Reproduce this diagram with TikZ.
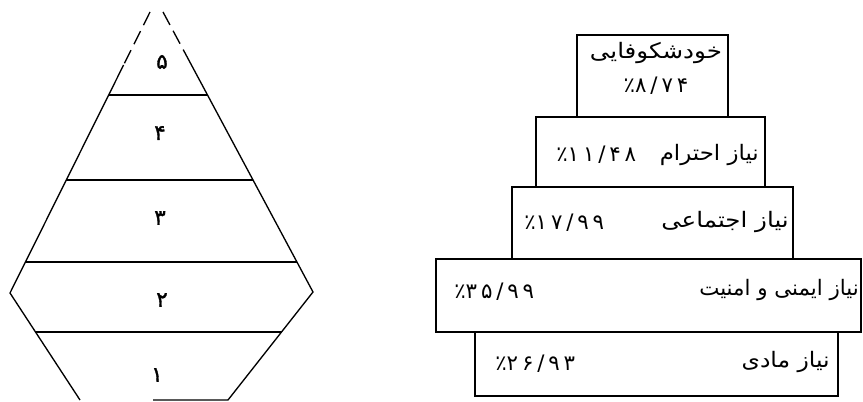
\documentclass[tikz,border=0pt]{standalone}
\usepackage{fontspec}
\usepackage{graphicx}
\newfontfamily\arabicfont[Script=Arabic]{DejaVu Sans}
\newfontfamily\numfont[Script=Arabic,FakeBold=1.5]{DejaVu Sans}
\newfontfamily\digitfont[Script=Arabic,LetterSpace=18]{DejaVu Sans}
\TeXXeTstate=1
\newcommand\pctxt[1]{\beginL\hbox{\digitfont ٪}\hbox{\digitfont #1}\endL}
\begin{document}
\begin{tikzpicture}[x=0.75pt,y=-0.75pt,
  outline/.style={line width=1pt,black},
  dashpart/.style={outline,dash pattern=on 11pt off 5pt},
  box/.style={draw,line width=0.9pt,inner sep=0pt,outer sep=0pt},
  lbl/.style={inner sep=0pt,font=\arabicfont\fontsize{16}{19}\selectfont},
  num/.style={inner sep=0pt,font=\numfont\fontsize{16}{18}\selectfont}]
\useasboundingbox (0,0) rectangle (863,402);
% ---------- left shape ----------
\coordinate (tl) at (150,12);
\coordinate (dl) at (123.6,65);
\coordinate (tr) at (163,12);
\coordinate (dr) at (183.4,50);
\coordinate (wl) at (10,293);
\coordinate (wr) at (313,292);
\coordinate (bl) at (80,400);
\coordinate (br) at (228,400);
\coordinate (bm) at (153,400);
\draw[dashpart] (tl) -- (dl);
\draw[dashpart] (tr) -- (dr);
\draw[outline] (dl) -- (wl) -- (bl);
\draw[outline] (dr) -- (wr) -- (br) -- (bm);
\coordinate (a1) at (108.6,95);  \coordinate (a2) at (207.5,95);
\coordinate (b1) at (66,180);    \coordinate (b2) at (253,180);
\coordinate (c1) at (25,262);    \coordinate (c2) at (297,262);
\coordinate (d1) at (35.5,332);  \coordinate (d2) at (281.5,332);
\draw[outline] (a1) -- (a2);
\draw[outline] (b1) -- (b2);
\draw[outline] (c1) -- (c2);
\draw[outline] (d1) -- (d2);
\node[num] (n5) at (162,62) {۵};
\node[num] (n4) at (160,133) {۴};
\node[num] (n3) at (160,218) {۳};
\node[num] (n2) at (162,300) {۲};
\node[num] (n1) at (157,375) {۱};
% ---------- right boxes ----------
\node[box,minimum width=113.25pt,minimum height=61.5pt] (bx1) at (652.5,76) {};
\node[box,minimum width=171.75pt,minimum height=52.5pt] (bx2) at (650.5,152) {};
\node[box,minimum width=210.75pt,minimum height=54pt] (bx3) at (652.5,223) {};
\node[box,minimum width=318.75pt,minimum height=54.75pt] (bx4) at (648.5,295.5) {};
\node[box,minimum width=272.25pt,minimum height=48pt] (bx5) at (656.5,364) {};
% texts
\node[lbl] (t1a) at (656,53) {\scalebox{1.15}[1]{\beginR خودشکوفایی\endR}};
\node[lbl] (t1b) at (656,86) {\pctxt{۸/۷۴}};
\node[lbl,anchor=east] (t2a) at (759,155) {\scalebox{1.07}[1]{\beginR نیاز احترام\endR}};
\node[lbl,anchor=west] (t2b) at (556,155) {\pctxt{۱۱/۴۸}};
\node[lbl,anchor=east] (t3a) at (789,222) {\scalebox{1.15}[1]{\beginR نیاز اجتماعی\endR}};
\node[lbl,anchor=west] (t3b) at (524,223) {\pctxt{۱۷/۹۹}};
\node[lbl,anchor=east] (t4a) at (859,290) {\beginR نیاز ایمنی و امنیت\endR};
\node[lbl,anchor=west] (t4b) at (454,292) {\pctxt{۳۵/۹۹}};
\node[lbl,anchor=east] (t5a) at (830,362) {\scalebox{1.1}[1]{\beginR نیاز مادی\endR}};
\node[lbl,anchor=west] (t5b) at (495,364) {\pctxt{۲۶/۹۳}};
\end{tikzpicture}
\end{document}
